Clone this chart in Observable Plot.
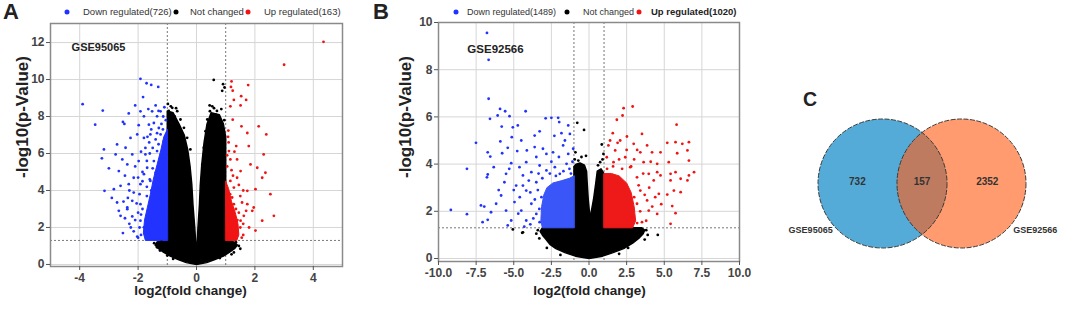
<!DOCTYPE html>
<html><head><meta charset="utf-8">
<script src="https://cdn.jsdelivr.net/npm/d3@7"></script>
<script src="https://cdn.jsdelivr.net/npm/@observablehq/plot@0.6"></script>
<style>
body{margin:0;background:#fff;}
#fig{position:relative;width:1065px;height:316px;overflow:hidden;font-family:"Liberation Sans",Arial,sans-serif;color:#222;background:#fff;}
.t{position:absolute;white-space:nowrap;line-height:1;}
.panel{position:absolute;top:0;}
.ld{position:absolute;width:5px;height:5px;border-radius:50%;transform:translate(-50%,-50%);}
</style></head><body><div id="fig"></div>
<script>
// ---------- Panel A : GSE95065 ----------
const aTitle = "GSE95065";
const aCounts = {down: 726, up: 163};
const aXTicks = [-4, -2, 0, 2, 4];
const aYTicks = [0, 2, 4, 6, 8, 10, 12];
const fcCut = [-1, 1];
const pCut = [1.3];
const aNcHull = [[-1.0,8.3],[-1.0,1.3],[-1.15,1.3],[-1.35,1.22],[-1.42,1.05],[-1.3,0.85],[-1.12,0.65],[-0.9,0.45],[-0.65,0.28],[-0.35,0.1],[0,0],[0.35,0.1],[0.65,0.28],[0.92,0.45],[1.12,0.65],[1.3,0.85],[1.4,1.05],[1.3,1.2],[1.1,1.3],[1.0,1.3],[1.0,6.9],[0.92,7.6],[0.78,8.1],[0.5,8.2],[0.36,7.6],[0.26,6.6],[0.18,5.4],[0.13,4.3],[0.1,3.2],[0.05,2.0],[0,0.5],[-0.06,2.0],[-0.12,3.2],[-0.16,4.3],[-0.22,5.3],[-0.3,6.2],[-0.42,7.0],[-0.6,7.6],[-0.8,8.2]];
const aDownHull = [[-1.0,1.3],[-1.75,1.3],[-1.82,1.7],[-1.78,2.4],[-1.68,3.1],[-1.58,3.8],[-1.48,4.6],[-1.35,5.4],[-1.22,6.2],[-1.12,6.9],[-1.0,7.3]];
const aUpHull = [[1.0,1.3],[1.38,1.3],[1.45,1.6],[1.42,2.2],[1.33,2.8],[1.2,3.4],[1.1,4.1],[1.0,4.5]];
const aDownPts = [[-3.90,8.67],[-3.21,8.32],[-3.47,7.56],[-2.32,8.17],[-2.52,7.71],[-2.47,7.60],[-1.92,8.28],[-1.80,8.01],[-1.52,8.28],[-1.35,8.01],[-1.23,8.28],[-1.14,8.00],[-1.98,7.53],[-1.63,7.56],[-1.46,7.65],[-1.29,7.38],[-2.26,6.84],[-2.03,7.03],[-1.80,6.84],[-1.58,7.03],[-1.40,6.76],[-1.23,7.03],[-1.12,6.67],[-2.72,6.49],[-2.43,6.31],[-3.17,6.22],[-2.77,5.95],[-3.24,5.74],[-2.54,5.68],[-2.37,5.41],[-2.20,5.95],[-1.98,5.59],[-1.75,5.95],[-1.69,5.23],[-1.46,5.59],[-1.35,6.13],[-1.23,5.77],[-1.12,5.41],[-2.66,5.05],[-2.15,4.69],[-2.83,4.07],[-3.15,3.98],[-2.60,4.25],[-2.32,4.34],[-2.15,3.89],[-1.92,4.34],[-1.80,4.88],[-1.58,4.52],[-1.40,4.96],[-1.29,4.16],[-2.20,3.44],[-1.92,3.26],[-2.37,3.08],[-2.66,2.90],[-2.72,3.35],[-2.60,2.63],[-2.52,1.70],[-2.15,1.79],[-2.03,1.51],[-2.37,2.99],[-1.92,2.37],[-1.69,1.65],[-1.80,2.01],[-1.92,10.04],[-1.71,9.80],[-1.55,9.71],[-1.31,9.60],[-1.83,9.05],[-1.1,8.5],[-1.05,7.8],[-1.15,7.3],[-1.3,6.5],[-1.5,6.3],[-1.6,6.0],[-1.05,6.0],[-1.2,4.6],[-1.1,4.3],[-1.55,4.0],[-1.7,3.7],[-1.45,3.5],[-1.85,3.0],[-2.0,2.8],[-1.95,2.0],[-2.1,2.4],[-1.9,1.6],[-2.3,2.2],[-1.25,3.8],[-1.6,4.6],[-1.15,5.1],[-1.5,5.2],[-1.85,5.0],[-2.0,4.7],[-1.7,4.2],[-2.45,4.8],[-2.9,3.6],[-3.0,5.2],[-2.35,3.6],[-1.4,8.6],[-1.65,8.4],[-2.1,8.6],[-1.62,6.6],[-1.75,6.3],[-1.9,6.1],[-1.7,5.6],[-1.85,4.5],[-1.95,3.8],[-2.05,3.3],[-1.9,2.7],[-2.2,2.6],[-2.25,2.0],[-2.0,1.45],[-1.68,6.9],[-1.35,7.1],[-1.2,7.6],[-1.3,8.3],[-1.55,7.3],[-2.1,5.3],[-2.3,4.0],[-2.5,3.4],[-2.45,2.5]];
const aUpPts = [[4.35,12.04],[3.0,10.8],[1.2,9.9],[1.18,9.6],[1.24,9.4],[1.77,9.7],[1.53,9.1],[1.7,8.9],[1.28,8.9],[1.16,8.55],[1.51,8.6],[1.24,7.83],[1.54,7.47],[1.74,7.11],[2.13,7.47],[2.39,7.03],[1.09,7.24],[1.36,6.40],[1.79,6.40],[1.11,6.13],[1.16,5.68],[1.39,5.68],[1.85,5.41],[2.30,5.95],[2.08,5.23],[2.36,4.96],[1.51,5.05],[1.16,4.52],[1.39,4.69],[2.25,4.69],[1.74,3.98],[2.02,4.07],[2.53,3.80],[1.22,3.62],[1.56,3.35],[1.96,3.08],[2.65,2.63],[1.05,3.08],[1.28,4.16],[1.28,3.26],[1.74,3.26],[1.91,2.90],[1.62,2.63],[2.25,2.37],[2.02,1.83],[1.16,2.01],[1.39,1.74],[1.05,1.65],[1.51,2.37],[1.28,2.55],[1.1,6.6],[1.05,5.9],[1.2,5.1],[1.45,4.3],[1.6,4.0],[1.35,3.0],[1.5,2.0],[1.6,1.6],[1.7,2.9],[1.45,2.8],[1.1,2.5],[1.05,1.5],[1.3,1.5],[1.08,6.9],[1.3,6.1],[1.05,5.3],[1.25,4.8],[1.5,3.7],[1.15,3.8],[1.6,2.2],[1.8,2.0],[1.4,2.4],[1.55,1.45]];
const aNcPts = [[0.59,9.98],[0.91,9.75],[0.96,9.57],[0.88,9.39],[-0.98,8.68],[-0.83,8.47],[-0.66,8.29],[-0.91,8.02],[-0.55,7.84],[-0.43,7.39],[-0.32,6.85],[0.54,8.55],[0.46,8.29],[0.65,8.11],[0.37,7.84],[0.59,7.57],[0.82,7.30],[0.31,7.21],[0.94,6.85],[-0.21,6.22],[0.25,6.31],[-0.95,8.3],[-0.75,8.0],[-0.9,7.9],[0.85,8.4],[0.7,8.3],[0.95,7.8],[-0.3,5.6],[0.2,5.4],[-1.35,0.93],[-1.0,0.48],[1.05,0.75],[1.28,0.65],[-1.45,1.15],[-1.2,1.22],[1.45,1.0],[1.5,0.85],[1.2,0.55],[-0.8,0.3],[0.8,0.35],[-1.25,0.75],[1.35,1.2],[-0.88,8.55],[-0.7,8.45],[0.6,8.45],[0.45,8.6]];

// ---------- Panel B : GSE92566 ----------
const bTitle = "GSE92566";
const bCounts = {down: 1489, up: 1020};
const bXTicks = [-10, -7.5, -5, -2.5, 0, 2.5, 5, 7.5, 10];
const bYTicks = [0, 2, 4, 6, 8, 10];
const bNcHull = [[-1.0,3.9],[-1.0,1.3],[-3.1,1.3],[-3.25,1.15],[-3.05,0.95],[-2.85,0.8],[-2.6,0.6],[-2.2,0.42],[-1.6,0.25],[-0.9,0.1],[0,0],[0.9,0.1],[1.6,0.25],[2.3,0.42],[2.9,0.65],[3.3,0.85],[3.6,1.05],[3.7,1.2],[3.5,1.3],[1.0,1.3],[1.0,3.6],[0.8,3.8],[0.55,3.7],[0.45,3.2],[0.3,2.5],[0.07,1.7],[-0.05,2.5],[-0.12,3.2],[-0.16,3.7],[-0.3,3.95],[-0.6,4.05],[-0.85,4.0]];
const bDownHull = [[-1.0,1.3],[-3.1,1.3],[-3.2,1.6],[-3.15,2.2],[-3.0,2.7],[-2.8,3.0],[-2.4,3.2],[-1.8,3.3],[-1.3,3.4],[-1.0,3.5]];
const bUpHull = [[1.0,1.3],[2.9,1.3],[3.1,1.6],[3.0,2.2],[2.8,2.8],[2.5,3.2],[2.0,3.5],[1.5,3.6],[1.0,3.6]];
const bDownPts = [[-6.78,9.56],[-6.67,8.42],[-6.67,6.77],[-5.91,6.34],[-5.57,6.24],[-5.28,6.03],[-6.07,6.06],[-4.21,6.24],[-6.58,5.92],[-5.80,5.59],[-5.06,5.56],[-4.73,5.64],[-2.88,5.94],[-2.50,5.96],[-2.05,5.96],[-1.98,5.78],[-1.38,5.64],[-7.51,4.90],[-5.89,4.96],[-5.13,5.14],[-4.50,5.00],[-3.61,5.21],[-3.28,5.39],[-1.83,5.31],[-1.27,5.28],[-6.73,4.50],[-6.56,4.32],[-5.77,4.46],[-5.40,4.69],[-4.77,4.55],[-4.13,4.58],[-3.61,4.72],[-3.06,4.65],[-2.83,4.43],[-2.39,4.50],[-1.72,4.79],[-1.38,4.43],[-1.05,4.65],[-8.11,3.80],[-6.33,3.87],[-5.51,3.59],[-5.17,4.04],[-4.62,3.87],[-4.17,4.08],[-3.83,3.66],[-3.28,3.94],[-2.83,3.73],[-2.27,3.87],[-1.94,3.59],[-1.49,4.01],[-6.78,3.44],[-5.62,3.23],[-4.39,3.09],[-3.50,3.23],[-9.18,2.06],[-8.11,1.88],[-7.18,2.25],[-6.96,2.20],[-7.07,1.54],[-6.73,1.64],[-6.17,2.32],[-6.51,1.96],[-5.84,2.67],[-5.51,2.03],[-5.40,1.40],[-5.17,1.61],[-4.95,2.39],[-4.50,2.03],[-4.17,1.61],[-3.83,2.32],[-3.50,1.89],[-4.17,2.88],[-4.84,3.09],[-3.16,2.60],[-3.28,1.54],[-4.39,3.52],[-6.73,3.56],[-3.4,2.9],[-3.6,2.5],[-3.3,2.1],[-3.7,1.7],[-3.9,2.8],[-4.0,3.3],[-3.1,3.4],[-2.6,3.6],[-2.2,3.5],[-1.7,3.7],[-1.3,3.8],[-1.1,4.1],[-2.5,4.1],[-3.5,4.3],[-4.6,2.6],[-5.0,2.9],[-4.7,1.9],[-6.0,2.9],[-5.3,3.8],[-3.9,1.45],[-4.3,1.35],[-3.35,3.6],[-2.0,4.3],[-1.6,5.0],[-2.3,5.2],[-1.2,3.6]];
const bUpPts = [[2.30,6.37],[2.90,6.44],[1.85,5.88],[2.23,6.06],[5.82,5.67],[1.58,5.31],[2.52,5.17],[3.52,5.28],[2.07,5.00],[2.97,4.86],[3.86,4.79],[5.20,4.90],[5.75,4.93],[6.20,4.86],[6.64,4.93],[1.29,4.79],[1.74,4.58],[2.41,4.29],[3.41,4.50],[4.19,4.50],[4.75,4.50],[5.86,4.46],[6.54,4.58],[1.18,4.29],[1.63,4.08],[2.74,3.87],[3.63,4.08],[4.53,4.01],[5.30,4.08],[6.64,4.15],[6.98,3.66],[5.75,3.66],[6.54,3.31],[3.19,3.44],[3.97,3.59],[4.75,3.52],[5.42,3.31],[4.64,2.74],[5.20,2.71],[5.64,2.88],[6.09,2.81],[5.75,1.92],[5.42,1.47],[4.53,1.89],[3.97,2.03],[3.52,1.54],[3.86,2.46],[3.41,2.88],[4.30,3.31],[3.19,2.32],[2.86,1.75],[5.42,3.59],[6.09,3.38],[6.64,3.52],[4.53,3.66],[5.53,2.22],[3.2,1.5],[3.4,2.0],[3.0,2.6],[3.3,3.1],[3.6,3.6],[2.8,3.9],[2.2,3.8],[1.6,3.9],[1.2,3.8],[2.0,4.2],[3.0,4.2],[4.0,3.0],[4.2,2.2],[4.8,2.3],[3.8,1.6],[4.4,2.6],[3.7,2.7],[2.5,4.6],[1.4,5.0],[3.2,4.6],[4.1,4.1],[1.9,4.9]];
const bNcPts = [[-0.78,5.75],[-0.33,5.45],[-0.71,4.15],[0.85,4.83],[0.96,4.43],[0.74,4.08],[-0.9,4.5],[-0.5,4.3],[0.9,4.2],[-0.2,4.35],[-0.95,4.2],[0.6,3.95],[-5.06,1.23],[-4.44,1.09],[-4.39,1.11],[4.57,1.00],[-3.5,1.05],[-3.3,0.85],[3.9,1.0],[3.7,0.8],[-2.8,0.45],[2.6,0.45],[-1.9,0.15],[2.0,0.2],[-3.4,1.2],[3.8,1.2]];

// ---------- Panel C : Venn ----------
const vennSets = ["GSE95065", "GSE92566"];
const vennCounts = [732, 157, 2352];
const vennCenters = [-0.617, 0.617];
const vennColors = ["#55abd7", "#ff5e15"];

const BLUE = "#2233ff", RED = "#f01414", BLACK = "#000";
const fig = document.getElementById("fig");
const X = d => d[0], Y = d => d[1];

function T(text, cx, cy, size, weight, anchor, extra) {
  const el = document.createElement("div");
  el.className = "t";
  el.textContent = text;
  el.style.left = cx + "px";
  el.style.top = cy + "px";
  el.style.fontSize = size + "px";
  el.style.fontWeight = weight;
  el.style.transform = (anchor === "start" ? "translate(0,-50%)" : anchor === "topleft" ? "none" : "translate(-50%,-50%)") + (extra || "");
  fig.appendChild(el);
  return el;
}
function dotKey(cx, cy, color) {
  const el = document.createElement("div");
  el.className = "ld";
  el.style.left = cx + "px"; el.style.top = cy + "px"; el.style.background = color;
  fig.appendChild(el);
}

function volcano(o) {
  return Plot.plot({
    width: o.width, height: 316,
    marginLeft: o.ml, marginRight: o.mr, marginTop: o.mt, marginBottom: o.mb,
    x: {domain: o.xd}, y: {domain: o.yd},
    style: {fontFamily: "Liberation Sans, Arial, sans-serif", fontSize: "12px", fontWeight: "bold", background: "transparent", overflow: "visible"},
    marks: [
      Plot.gridX(o.xt, {stroke: "#d6d6d6", strokeOpacity: 1}),
      Plot.gridY(o.yt, {stroke: "#d6d6d6", strokeOpacity: 1}),
      Plot.ruleX(fcCut, {stroke: "#777", strokeDasharray: "2,2"}),
      Plot.ruleY(pCut, {stroke: "#777", strokeDasharray: "2,2"}),
      Plot.line(o.ncHull, {x: X, y: Y, fill: BLACK, stroke: BLACK, strokeWidth: 1.5, curve: "linear-closed"}),
      Plot.line(o.downHull, {x: X, y: Y, fill: o.blueBlock, stroke: o.blueBlock, strokeWidth: 1, curve: "linear-closed"}),
      Plot.line(o.upHull, {x: X, y: Y, fill: o.redBlock, stroke: o.redBlock, strokeWidth: 1, curve: "linear-closed"}),
      Plot.dot(o.ncPts, {x: X, y: Y, r: 1.4, fill: BLACK, stroke: null}),
      Plot.dot(o.downPts, {x: X, y: Y, r: 1.4, fill: BLUE, stroke: null}),
      Plot.dot(o.upPts, {x: X, y: Y, r: 1.4, fill: RED, stroke: null}),
      Plot.frame({stroke: "#8a8a8a", strokeWidth: 1.5}),
      Plot.axisX(o.xt, {tickSize: 4, tickPadding: 3, label: null, tickFormat: o.xf, color: "#444", stroke: "#555"}),
      Plot.axisY(o.yt, {tickSize: 4, tickPadding: 2, label: null, tickFormat: d => String(d), color: "#444", stroke: "#555"})
    ]
  });
}

// Panel A
const pa = volcano({width: 360, ml: 50, mr: 18, mt: 23, mb: 50, xd: [-5, 5], yd: [-0.11, 13.03],
  xt: aXTicks, yt: aYTicks, xf: d => String(d),
  ncHull: aNcHull, downHull: aDownHull, upHull: aUpHull,
  ncPts: aNcPts, downPts: aDownPts, upPts: aUpPts, blueBlock: BLUE, redBlock: RED});
pa.classList.add("panel"); pa.style.left = "0px";
fig.appendChild(pa);

// Panel B
const pb = volcano({width: 385, ml: 68, mr: 16, mt: 22, mb: 55, xd: [-10, 10], yd: [-0.127, 10],
  xt: bXTicks, yt: bYTicks, xf: d => d.toFixed(1),
  ncHull: bNcHull, downHull: bDownHull, upHull: bUpHull,
  ncPts: bNcPts, downPts: bDownPts, upPts: bUpPts, blueBlock: "#3a55f8", redBlock: "#ee1a1a"});
pb.classList.add("panel"); pb.style.left = "370px";
fig.appendChild(pb);

// Panel C
const circles = vennSets.map((s, i) => ({set: s, x: vennCenters[i], color: vennColors[i], op: i === 0 ? 1 : 0.62}));
const countLabels = [{x: -1.01, t: String(vennCounts[0])}, {x: 0, t: String(vennCounts[1])}, {x: 1.02, t: String(vennCounts[2])}];
const setLabels = [{x: -1.74, t: vennSets[0]}, {x: 1.77, t: vennSets[1]}];
const pc = Plot.plot({
  width: 295, height: 316, margin: 0,
  x: {domain: [-2.367, 2.242], axis: null}, y: {domain: [-2.078, 2.859], axis: null},
  style: {fontFamily: "Liberation Sans, Arial, sans-serif", background: "transparent"},
  marks: [
    Plot.dot(circles, {x: "x", y: 0, r: 64.5, fill: "color", fillOpacity: "op", stroke: null}),
    Plot.dot(circles, {x: "x", y: 0, r: 64.5, fill: "none", stroke: "#3a3a3a", strokeWidth: 1, strokeDasharray: "5,1.5"}),
    Plot.text(countLabels, {x: "x", y: 0.02, text: "t", fontSize: 10, fontWeight: "bold", fill: "#333"}),
    Plot.text(setLabels, {x: "x", y: -0.73, text: "t", fontSize: 9, fontWeight: "bold", fill: "#333"})
  ]
});
pc.classList.add("panel"); pc.style.left = "770px";
fig.appendChild(pc);

// Texts: panel letters, titles, axis labels, legends
T("A", 3, 1, 22, "bold", "topleft");
T("B", 373, 1, 22, "bold", "topleft");
T("C", 803, 100, 19.5, "bold", "start");
T(aTitle, 98.5, 47, 11, "bold");
T(bTitle, 495.5, 50, 11.5, "bold");
T("-log10(p-Value)", 22, 117, 17, "bold", "middle", " rotate(-90deg)");
T("-log10(p-Value)", 405, 117, 17, "bold", "middle", " rotate(-90deg)");
T("log2(fold change)", 190.5, 291, 13.5, "bold");
T("log2(fold change)", 589.5, 291, 13.5, "bold");

dotKey(67, 12, BLUE); T(`Down regulated(${aCounts.down})`, 83, 12, 9.5, "normal", "start").style.color = "#333";
dotKey(176, 12, BLACK); T("Not changed", 190, 12, 9.5, "normal", "start").style.color = "#333";
dotKey(248, 12, RED); T(`Up regulated(${aCounts.up})`, 264, 12, 9.5, "normal", "start").style.color = "#333";

dotKey(456, 12, BLUE); T(`Down regulated(${bCounts.down})`, 467, 12, 9, "normal", "start").style.color = "#333";
dotKey(567, 12, BLACK); T("Not changed", 583, 12, 9, "normal", "start").style.color = "#333";
dotKey(639, 12, RED); T(`Up regulated(${bCounts.up})`, 651, 12, 9.5, "bold", "start").style.color = "#222";
</script></body></html>
